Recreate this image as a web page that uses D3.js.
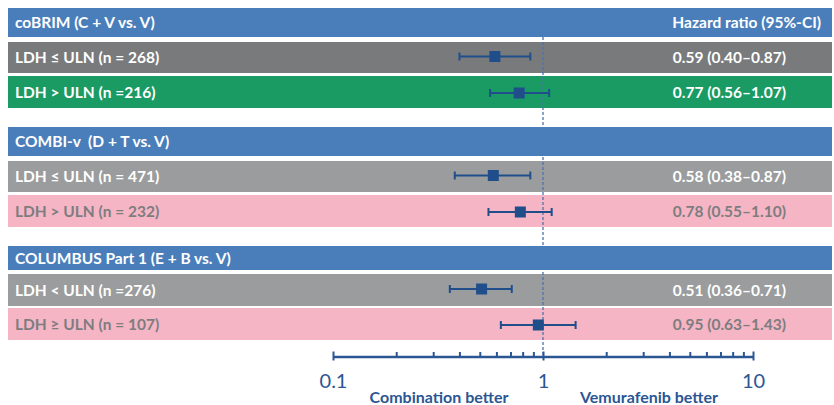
<!DOCTYPE html>
<html>
<head>
<meta charset="utf-8">
<script src="https://cdn.jsdelivr.net/npm/d3@7"></script>
<style>
  html, body { margin: 0; padding: 0; background: #fff; }
  svg { display: block; font-family: Lato, "Open Sans", sans-serif; }
  svg text { white-space: pre; }
</style>
</head>
<body>
<svg id="chart" width="834" height="405"></svg>
<script>
// ---- data ----
const headers = ["coBRIM (C + V vs. V)", "COMBI-v  (D + T vs. V)", "COLUMBUS Part 1 (E + B vs. V)"];
const headerRight = ["Hazard ratio (95%-CI)", "", ""];
const rowLabels = ["LDH \u2264 ULN (n = 268)", "LDH > ULN (n =216)", "LDH \u2264 ULN (n = 471)", "LDH > ULN (n = 232)", "LDH < ULN (n =276)", "LDH \u2265 ULN (n = 107)"];
const rowGroup = [0, 0, 1, 1, 2, 2];
const rowKind = ["grayDark", "green", "grayLight", "pink", "grayLight", "pink"];
const hr = [0.59, 0.77, 0.58, 0.78, 0.51, 0.95];
const ciLow = [0.40, 0.56, 0.38, 0.55, 0.36, 0.63];
const ciHigh = [0.87, 1.07, 0.87, 1.10, 0.71, 1.43];
const hrText = ["0.59 (0.40\u20130.87)", "0.77 (0.56\u20131.07)", "0.58 (0.38\u20130.87)", "0.78 (0.55\u20131.10)", "0.51 (0.36\u20130.71)", "0.95 (0.63\u20131.43)"];
const tickLabels = [0.1, 1, 10];
const minorTicks = [0.2, 0.3, 0.4, 0.5, 0.6, 0.7, 0.8, 0.9, 2, 3, 4, 5, 6, 7, 8, 9];
const axisNotes = ["Combination better", "Vemurafenib better"];

// ---- layout ----
const svg = d3.select("#chart");
const left = 8, right = 832;
const headerBands = [[8, 37], [127, 156], [246, 270]];
const rowBands = [[42, 73], [76, 108], [161, 192], [195, 227], [274, 306], [308, 340]];
const fills = { grayDark: "#787a7c", green: "#199b63", grayLight: "#9a9c9d", pink: "#f5b5c5" };
const textFill = { grayDark: "#ffffff", green: "#ffffff", grayLight: "#ffffff", pink: "#7d7d7f" };
const navy = "#1f4e8b";
const axisBlue = "#2b5694";

const x = d3.scaleLog().domain([0.1, 10]).range([333, 753]);
const axisY = 356.5;

// rows
const rows = svg.append("g");
rowLabels.forEach((lab, i) => {
  const [y0, y1] = rowBands[i];
  const k = rowKind[i];
  rows.append("rect").attr("x", left).attr("y", y0).attr("width", right - left).attr("height", y1 - y0).attr("fill", fills[k]);
  const cy = (y0 + y1) / 2;
  rows.append("text").attr("x", 15).attr("y", cy).attr("dy", "0.36em")
    .attr("fill", textFill[k]).attr("font-weight", 700).attr("font-size", 15.5).text(lab);
  rows.append("text").attr("x", 786).attr("y", cy).attr("dy", "0.36em").attr("text-anchor", "end")
    .attr("fill", textFill[k]).attr("font-weight", 700).attr("font-size", 15.5).text(hrText[i]);
});

// reference line at 1
svg.append("line").attr("x1", x(1)).attr("x2", x(1)).attr("y1", 37).attr("y2", axisY)
  .attr("stroke", "#4f72ad").attr("stroke-width", 1.3).attr("stroke-dasharray", "3,2");

// headers
const hg = svg.append("g");
headers.forEach((h, i) => {
  const [y0, y1] = headerBands[i];
  hg.append("rect").attr("x", left).attr("y", y0).attr("width", right - left).attr("height", y1 - y0).attr("fill", "#4a7ebb");
  const cy = (y0 + y1) / 2;
  hg.append("text").attr("x", 15).attr("y", cy).attr("dy", "0.36em").attr("fill", "#fff")
    .attr("font-weight", 700).attr("font-size", 15.5).text(h);
  if (headerRight[i]) {
    hg.append("text").attr("x", 821).attr("y", cy).attr("dy", "0.36em").attr("text-anchor", "end")
      .attr("fill", "#fff").attr("font-weight", 700).attr("font-size", 15.5).text(headerRight[i]);
  }
});

// error bars
const eb = svg.append("g");
hr.forEach((v, i) => {
  const [y0, y1] = rowBands[i];
  const cy = (y0 + y1) / 2 + (i % 2 === 1 ? 1 : -1);
  eb.append("line").attr("x1", x(ciLow[i])).attr("x2", x(ciHigh[i])).attr("y1", cy).attr("y2", cy)
    .attr("stroke", navy).attr("stroke-width", 2);
  [ciLow[i], ciHigh[i]].forEach(c => {
    eb.append("line").attr("x1", x(c)).attr("x2", x(c)).attr("y1", cy - 4).attr("y2", cy + 4)
      .attr("stroke", navy).attr("stroke-width", 2);
  });
  eb.append("rect").attr("x", x(v) - 5.5).attr("y", cy - 5.5).attr("width", 11).attr("height", 11).attr("fill", navy);
});

// axis
const allTicks = tickLabels.concat(minorTicks);
const axis = d3.axisBottom(x).tickValues(allTicks).tickSizeOuter(0).tickSize(0)
  .tickFormat(d => tickLabels.includes(d) ? String(d) : "");
const ag = svg.append("g").attr("transform", `translate(0,${axisY})`).call(axis);
ag.select(".domain").attr("stroke", axisBlue).attr("stroke-width", 2.5);
ag.selectAll(".tick line")
  .attr("stroke", axisBlue).attr("stroke-width", 2)
  .attr("y1", d => tickLabels.includes(d) ? -5 : -4.5)
  .attr("y2", d => tickLabels.includes(d) ? 4 : 0);
ag.selectAll(".tick text").attr("fill", axisBlue).attr("font-size", 20)
  .attr("font-family", "Lato, sans-serif").attr("y", 0).attr("dy", "1.55em");

// notes
svg.append("text").attr("x", 439).attr("y", 403).attr("text-anchor", "middle").attr("fill", axisBlue)
  .attr("font-weight", 700).attr("font-size", 16).text(axisNotes[0]);
svg.append("text").attr("x", 649).attr("y", 403).attr("text-anchor", "middle").attr("fill", axisBlue)
  .attr("font-weight", 700).attr("font-size", 16).text(axisNotes[1]);
</script>
</body>
</html>
